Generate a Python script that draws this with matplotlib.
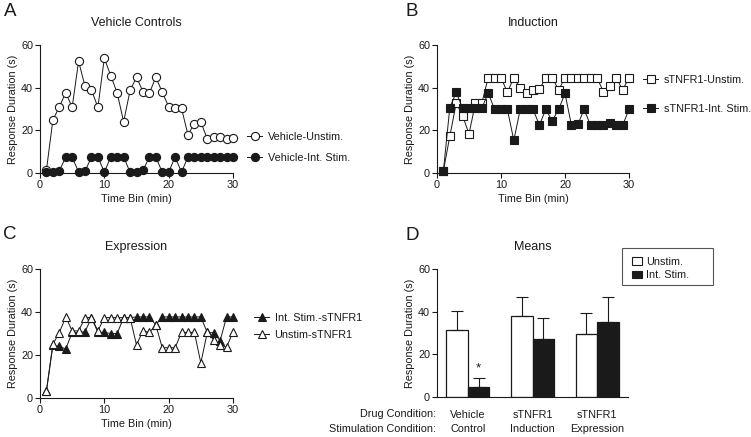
"""
Recreation of the four-panel response duration figure (A-D).
Saves out.png.
"""

import matplotlib.pyplot as plt
from matplotlib.lines import Line2D
from matplotlib.patches import Patch, Rectangle

plt.rcParams["font.family"] = ["Liberation Sans", "DejaVu Sans"]

INK = "#1a1a1a"

# time bins shared by panels A-C
time_bins = list(range(1, 31))

# panel A: vehicle controls
vehicle_unstim = [1.4, 24.8, 31.0, 37.7, 30.8, 52.4, 40.6, 38.9, 30.8, 53.8,
                  45.6, 37.5, 24.0, 38.7, 44.9, 38.2, 37.4, 44.9, 37.9, 31.1,
                  30.3, 30.3, 17.9, 23.2, 24.0, 15.9, 16.7, 17.0, 15.9, 16.5]
vehicle_stim = [0.4, 0.4, 1.0, 7.5, 7.5, 0.4, 0.8, 7.5, 7.5, 0.4,
                7.5, 7.5, 7.5, 0.4, 0.4, 1.2, 7.5, 7.5, 0.4, 0.4,
                7.5, 0.4, 7.5, 7.5, 7.5, 7.5, 7.5, 7.5, 7.5, 7.5]

# panel B: induction
induction_unstim = [1.0, 17.2, 32.8, 26.9, 18.3, 32.7, 32.7, 44.7, 44.7, 44.7,
                    37.8, 44.7, 39.7, 37.6, 38.9, 39.2, 44.7, 44.7, 38.9, 44.7,
                    44.7, 44.7, 44.7, 44.7, 44.7, 38.1, 41.0, 44.7, 38.9, 44.7]
induction_stim = [1.0, 30.6, 37.8, 30.3, 30.3, 30.3, 30.3, 37.5, 29.8, 29.8,
                  29.8, 15.3, 29.8, 29.8, 29.8, 22.5, 29.8, 24.4, 29.8, 37.3,
                  22.5, 22.8, 29.8, 22.3, 22.3, 22.3, 23.4, 22.3, 22.3, 29.8]

# panel C: expression
expression_stim = [3.3, 24.5, 24.0, 22.8, 30.5, 30.5, 30.8, 37.4, 30.5, 30.5,
                   30.0, 30.0, 37.4, 37.4, 37.7, 37.7, 37.7, 34.0, 37.7, 37.7,
                   37.7, 37.7, 37.7, 37.7, 37.7, 30.5, 30.3, 26.7, 37.7, 37.7]
expression_unstim = [3.3, 25.0, 30.4, 37.7, 31.2, 31.2, 37.4, 37.4, 31.2, 37.4,
                     37.4, 37.4, 37.4, 37.4, 24.7, 31.2, 30.5, 34.0, 23.4, 23.4,
                     23.4, 30.5, 30.5, 30.5, 16.3, 30.5, 27.0, 24.7, 23.7, 30.6]

# panel D: means
drug_labels = ["Vehicle\nControl", "sTNFR1\nInduction", "sTNFR1\nExpression"]
mean_unstim = [31.3, 38.1, 29.5]
mean_stim = [4.7, 27.2, 35.3]
err_unstim = [8.9, 9.0, 9.7]
err_stim = [4.4, 9.8, 11.5]

W, H = 751, 437


def px_axes(fig, left, top, right, bottom):
    """Add axes from pixel edges measured on the reference."""
    return fig.add_axes([left / W, 1 - bottom / H,
                         (right - left) / W, (bottom - top) / H])


def style_axes(ax):
    for side in ("top", "right"):
        ax.spines[side].set_visible(False)
    for side in ("left", "bottom"):
        ax.spines[side].set_color(INK)
        ax.spines[side].set_linewidth(0.8)
    ax.tick_params(direction="out", length=3.5, width=0.8, colors=INK,
                   labelsize=7.8, pad=1.5)
    ax.set_ylim(0, 60)
    ax.set_yticks([0, 20, 40, 60])
    ax.set_ylabel("Response Duration (s)", fontsize=7.8, color=INK, labelpad=2.5)


def time_panel(ax, title, series):
    style_axes(ax)
    ax.set_xlim(0, 30)
    ax.set_xticks([0, 10, 20, 30])
    ax.set_xlabel("Time Bin (min)", fontsize=7.8, color=INK, labelpad=3)
    ax.set_title(title, fontsize=9, color=INK, pad=14)
    for values, marker, face, size in series:
        ax.plot(time_bins, values, color=INK, lw=0.7, marker=marker,
                markersize=size, markerfacecolor=face, markeredgecolor=INK,
                markeredgewidth=0.8, clip_on=False)


def line_legend(ax, entries, x, y, spacing):
    handles = [Line2D([], [], color=INK, lw=0.7, marker=m, markersize=s,
                      markerfacecolor=f, markeredgecolor=INK,
                      markeredgewidth=0.8) for _, m, f, s in entries]
    labels = [e[0] for e in entries]
    ax.legend(handles, labels, loc="upper left",
              bbox_to_anchor=(x / W, 1 - y / H),
              bbox_transform=ax.figure.transFigure, frameon=False,
              fontsize=7.8, handlelength=1.4, handletextpad=0.5,
              labelspacing=spacing, borderpad=0, borderaxespad=0,
              labelcolor=INK)


fig = plt.figure(figsize=(W / 100, H / 100), dpi=100)

# A
ax_a = px_axes(fig, 40, 45, 233, 173)
time_panel(ax_a, "Vehicle Controls",
           [(vehicle_unstim, "o", "white", 5.9),
            (vehicle_stim, "o", INK, 5.9)])
line_legend(ax_a, [("Vehicle-Unstim.", "o", "white", 5.9),
                   ("Vehicle-Int. Stim.", "o", INK, 5.9)],
            247, 132, 1.0)

# B
ax_b = px_axes(fig, 437, 45, 629, 173)
time_panel(ax_b, "Induction",
           [(induction_unstim, "s", "white", 5.4),
            (induction_stim, "s", INK, 5.4)])
line_legend(ax_b, [("sTNFR1-Unstim.", "s", "white", 5.4),
                   ("sTNFR1-Int. Stim.", "s", INK, 5.4)],
            643, 75, 1.75)

# C
ax_c = px_axes(fig, 40, 269, 233, 398)
time_panel(ax_c, "Expression",
           [(expression_stim, "^", INK, 6.0),
            (expression_unstim, "^", "white", 6.0)])
line_legend(ax_c, [("Int. Stim.-sTNFR1", "^", INK, 6.0),
                   ("Unstim-sTNFR1", "^", "white", 6.0)],
            254, 313, 0.6)

# D
ax_d = px_axes(fig, 437, 269, 628, 397)
style_axes(ax_d)
ax_d.set_title("Means", fontsize=9, color=INK, pad=14)
groups = list(range(len(drug_labels)))
width = 0.333
ax_d.bar([g - width / 2 for g in groups], mean_unstim, width,
         color="white", edgecolor=INK, linewidth=0.9, label="Unstim.")
ax_d.bar([g + width / 2 for g in groups], mean_stim, width,
         color=INK, edgecolor=INK, linewidth=0.9, label="Int. Stim.")
ax_d.errorbar([g - width / 2 for g in groups], mean_unstim,
              yerr=[[0] * 3, err_unstim], fmt="none", ecolor=INK,
              elinewidth=0.8, capsize=4, capthick=0.8)
ax_d.errorbar([g + width / 2 for g in groups], mean_stim,
              yerr=[[0] * 3, err_stim], fmt="none", ecolor=INK,
              elinewidth=0.8, capsize=4, capthick=0.8)
ax_d.text(width / 2, mean_stim[0] + err_stim[0] + 4.5, "*", ha="center",
          va="center", fontsize=9.5, color=INK)
ax_d.set_xlim(-0.48, 2.48)
ax_d.set_xticks(groups)
ax_d.set_xticklabels(drug_labels, linespacing=1.5)
ax_d.tick_params(axis="x", length=0, pad=9)
ax_d.text(-0.005, -0.13, "Drug Condition:", transform=ax_d.transAxes,
          ha="right", va="center", fontsize=7.8, color=INK)
ax_d.text(-0.005, -0.25, "Stimulation Condition:", transform=ax_d.transAxes,
          ha="right", va="center", fontsize=7.8, color=INK)

# legend box of panel D drawn as its own frame, legend on top of it
fig.patches.append(Rectangle((622 / W, 1 - 285 / H), 91 / W, 37 / H,
                             transform=fig.transFigure, facecolor="white",
                             edgecolor="#555555", linewidth=0.8, zorder=2))
bar_legend = fig.legend(handles=[Patch(facecolor="white", edgecolor=INK, lw=0.8),
                                 Patch(facecolor=INK, edgecolor=INK, lw=0.8)],
                        labels=["Unstim.", "Int. Stim."], loc="upper left",
                        bbox_to_anchor=(632 / W, 1 - 257 / H),
                        fontsize=7.8, frameon=False,
                        handlelength=0.9, handleheight=0.75, handletextpad=0.4,
                        borderpad=0, borderaxespad=0, labelspacing=0.3,
                        labelcolor=INK)
bar_legend.set_zorder(5)

# panel letters
for letter, x, y in [("A", 10, 12), ("B", 412, 11), ("C", 10, 234),
                     ("D", 412, 235)]:
    fig.text(x / W, 1 - y / H, letter, fontsize=13.5, color=INK,
             ha="center", va="center")

fig.savefig("out.png", dpi=100)
